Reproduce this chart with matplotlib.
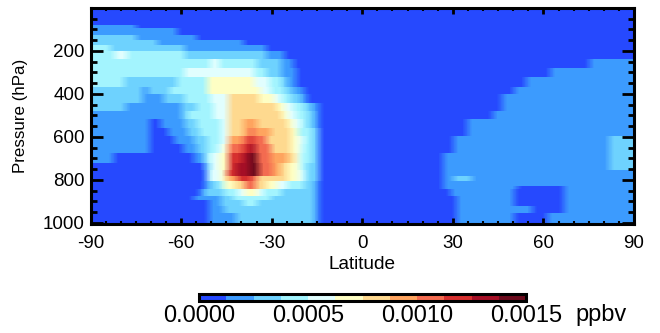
import numpy as np
import matplotlib
matplotlib.use("Agg")
import matplotlib.pyplot as plt
from matplotlib.colors import ListedColormap, BoundaryNorm
from matplotlib.cm import ScalarMappable
from matplotlib.ticker import MultipleLocator

plt.rcParams['font.family'] = ['Liberation Sans', 'DejaVu Sans']
plt.rcParams['axes.unicode_minus'] = False

band_colors = ['#2649ff', '#3d9bff', '#6fd2ff', '#a3f5ff', '#e2ffff', '#ffffc4',
               '#ffd98f', '#ffa45f', '#f46b50', '#d6302f', '#a50f26', '#6b0a1c']
band_edges = np.linspace(0, 0.0015, 13)
cbar_ticks = [0.0, 0.0005, 0.0010, 0.0015]
lat_ticks = [-90, -60, -30, 0, 30, 60, 90]
p_ticks = [200, 400, 600, 800, 1000]

# pressure edges of each row (hPa)
p_edges = [0, 79, 95, 126, 149, 172, 198, 239, 278, 322, 366, 401, 443, 479, 518,
           559, 595, 634, 673, 722, 753, 780, 804, 828, 843, 877, 893, 905, 921,
           939, 952, 970, 1005]

# each row: (eastern latitude limit, band number) runs from 90S to 90N
rows = [
    [(90, 0)],
    [(-75, 1), (90, 0)],
    [(-61.5, 1), (90, 0)],
    [(-75, 2), (-55, 1), (90, 0)],
    [(-68, 2), (-39.5, 1), (90, 0)],
    [(-83.5, 3), (-59, 2), (-32, 1), (90, 0)],
    [(-82, 3), (-78, 4), (-59, 3), (-32, 2), (-26, 1), (90, 0)],
    [(-50.5, 3), (-47.5, 4), (-35, 3), (-27, 2), (-23, 1), (75, 0), (90, 1)],
    [(-59, 3), (-36, 4), (-32, 3), (-27, 2), (-22, 1), (62, 0), (90, 1)],
    [(-79, 3), (-61.5, 2), (-51.5, 3), (-36, 5), (-31, 4), (-27, 3), (-25, 2), (-22, 1), (54, 0), (90, 1)],
    [(-73, 2), (-71, 1), (-64, 2), (-51.5, 3), (-34, 5), (-30.5, 4), (-26, 3), (-23, 2), (-19.5, 1), (50, 0), (90, 1)],
    [(-73, 2), (-66, 1), (-59, 2), (-50.5, 3), (-44.5, 4), (-34.5, 6), (-29.5, 5), (-27, 4), (-24, 3), (-20.5, 2), (-18.5, 1), (46, 0), (90, 1)],
    [(-78.5, 2), (-60, 1), (-55, 2), (-49.5, 3), (-44.5, 4), (-28.5, 6), (-26, 5), (-23, 4), (-19.5, 3), (-17, 2), (-14.5, 1), (46, 0), (90, 1)],
    [(-60, 1), (-58, 2), (-49.5, 3), (-44.5, 4), (-27, 6), (-25, 5), (-22, 4), (-18.5, 3), (-16, 2), (-14.5, 1), (43, 0), (90, 1)],
    [(-70.5, 1), (-67, 0), (-59, 1), (-55, 2), (-47, 3), (-44.5, 4), (-39.5, 6), (-35, 7), (-25, 6), (-23, 5), (-20.5, 4), (-18.5, 3), (-16, 2), (-14.5, 1), (34.5, 0), (90, 1)],
    [(-70.5, 1), (-64.5, 0), (-58, 1), (-54, 2), (-47, 3), (-44.5, 4), (-39.5, 6), (-37.5, 7), (-36, 8), (-30.5, 7), (-24, 6), (-21.5, 5), (-17, 3), (-14.5, 2), (34.5, 0), (90, 1)],
    [(-70.5, 1), (-62.5, 0), (-56, 1), (-51.5, 2), (-47, 3), (-44.5, 4), (-40, 7), (-38, 8), (-36, 9), (-32, 8), (-24, 6), (-21.5, 5), (-19.5, 4), (-17, 3), (-14.5, 2), (30, 0), (81.5, 1), (90, 2)],
    [(-70.5, 1), (-59.5, 0), (-55, 1), (-51.5, 2), (-48, 3), (-46, 4), (-44.5, 5), (-40, 8), (-37.5, 9), (-35.5, 10), (-30.5, 8), (-24, 6), (-21.5, 5), (-20, 4), (-17, 3), (-14.5, 2), (30, 0), (81.5, 1), (90, 2)],
    [(-82.5, 1), (-56, 0), (-52.5, 1), (-50.5, 3), (-47.5, 4), (-44.5, 5), (-40, 9), (-37.5, 10), (-35, 11), (-30.5, 8), (-25, 7), (-22.5, 6), (-21.5, 5), (-20.5, 4), (-17, 3), (-14.5, 2), (26.5, 0), (81.5, 1), (90, 2)],
    [(-52.5, 0), (-50.5, 2), (-47.5, 4), (-44.5, 5), (-42, 9), (-37.5, 10), (-34.5, 11), (-30, 8), (-27.5, 7), (-25, 6), (-21.5, 5), (-20.5, 4), (-18.5, 3), (-14.5, 2), (26.5, 0), (81.5, 1), (90, 2)],
    [(-52, 0), (-51, 2), (-47, 4), (-45, 5), (-42, 9), (-37.5, 10), (-34.5, 11), (-30, 8), (-27.5, 7), (-25, 6), (-21.5, 5), (-19.5, 4), (-18.5, 3), (-14.5, 2), (26.5, 0), (90, 1)],
    [(-52, 0), (-51, 2), (-47, 4), (-45, 5), (-41.5, 7), (-37, 9), (-35, 8), (-25, 6), (-21.5, 5), (-19.5, 4), (-18.5, 3), (-14.5, 2), (26.5, 0), (30, 1), (36, 2), (90, 1)],
    [(-52.5, 0), (-51, 1), (-48, 2), (-46, 3), (-42.5, 5), (-39, 6), (-35.5, 8), (-32, 6), (-28.5, 5), (-25, 4), (-19.5, 3), (-16, 2), (-14.5, 1), (26.5, 0), (90, 1)],
    [(-52.5, 0), (-51, 1), (-48, 2), (-46, 3), (-42.5, 5), (-39, 6), (-35.5, 8), (-32, 6), (-28.5, 5), (-25, 4), (-19.5, 3), (-16, 2), (-14.5, 1), (26.5, 0), (51, 1), (66.5, 0), (90, 1)],
    [(-54, 0), (-52.5, 1), (-46, 2), (-41.5, 3), (-39, 4), (-35, 5), (-33, 4), (-27, 3), (-16, 2), (-14.5, 1), (29, 0), (50, 1), (66.5, 0), (90, 1)],
    [(-56, 0), (-47, 1), (-43, 2), (-30.5, 3), (-16, 2), (-14.5, 1), (31, 0), (50, 1), (66.5, 0), (90, 1)],
    [(-51, 0), (-47, 1), (-39.5, 2), (-35, 3), (-16, 2), (-14.5, 1), (31, 0), (50, 1), (66.5, 0), (90, 1)],
    [(-51, 0), (-47, 1), (-39.5, 2), (-35, 3), (-16, 2), (-14.5, 1), (31, 0), (50, 1), (66.5, 0), (90, 1)],
    [(-51, 0), (-46, 1), (-16, 2), (-14.5, 1), (31, 0), (56, 1), (66.5, 0), (90, 1)],
    [(-51, 0), (-46, 1), (-16, 2), (-14.5, 1), (31, 0), (56, 1), (66.5, 0), (90, 1)],
    [(-51, 0), (-42, 1), (-16, 2), (-14.5, 1), (31, 0), (50, 1), (61, 0), (90, 1)],
    [(-51, 0), (-42, 1), (-16, 2), (-14.5, 1), (31, 0), (50, 1), (61, 0), (90, 1)],
]

cmap = ListedColormap(band_colors)
norm = BoundaryNorm(band_edges, cmap.N)
lat_fine = np.arange(-90, 90, 0.25) + 0.125
p_fine = np.arange(0, 1005, 1.0) + 0.5

# mixing ratio on a fine grid: centre of the colour band of each run
field = np.zeros((len(rows), lat_fine.size))
for r, runs in enumerate(rows):
    limits = np.array([u for u, _ in runs])
    bands = np.array([b for _, b in runs])
    idx = np.searchsorted(limits, lat_fine).clip(0, len(bands) - 1)
    field[r] = (band_edges[bands[idx]] + band_edges[bands[idx] + 1]) / 2

rgb = cmap(norm(field))[..., :3]
kernel = np.ones(13) / 13
pad = np.pad(rgb, ((0, 0), (6, 6), (0, 0)), mode='edge')
rgb = np.apply_along_axis(lambda v: np.convolve(v, kernel, mode='valid'), 1, pad)
row_idx = np.searchsorted(p_edges, p_fine).clip(1, len(rows)) - 1
rgb = rgb[row_idx]

fig = plt.figure(figsize=(6.6, 3.33), dpi=100)
W, H = 660, 333
ax = fig.add_axes([90.5 / W, 1 - 224 / H, (634 - 90.5) / W, (224 - 8) / H])
ax.imshow(rgb, extent=[-90, 90, 1005, 0], aspect='auto', interpolation='nearest')
ax.set_xlim(-90, 90)
ax.set_ylim(1005, 0)
ax.set_xticks(lat_ticks)
ax.set_yticks(p_ticks)
ax.xaxis.set_minor_locator(MultipleLocator(5))
ax.yaxis.set_minor_locator(MultipleLocator(50))
ax.tick_params(axis='x', which='major', direction='in', top=True, length=4, width=2, labelsize=13.5, pad=8)
ax.tick_params(axis='x', which='minor', direction='in', top=True, length=2, width=1.5)
ax.tick_params(axis='y', which='major', direction='in', right=True, length=8.5, width=2, labelsize=13.5, pad=4)
ax.tick_params(axis='y', which='minor', direction='in', right=True, length=4, width=2)
for s in ax.spines.values():
    s.set_linewidth(2.2)
ax.set_xlabel('Latitude', fontsize=13.7, labelpad=3)
ax.set_ylabel('Pressure (hPa)', fontsize=12.2, labelpad=11)

cax = fig.add_axes([199 / W, 1 - 301 / H, (526 - 199) / W, 7 / H])
cb = fig.colorbar(ScalarMappable(norm=norm, cmap=cmap), cax=cax, orientation='horizontal',
                  ticks=cbar_ticks, spacing='proportional', drawedges=False)
cb.outline.set_linewidth(2.2)
cb.set_ticklabels(['0.0000', '0.0005', '0.0010', '0.0015'])
cax.minorticks_off()
cax.tick_params(axis='x', length=0, labelsize=17, pad=3)
fig.text(575 / W, 1 - 315 / H, 'ppbv', fontsize=17, va='center', ha='left')

fig.savefig('out.png', dpi=100)
